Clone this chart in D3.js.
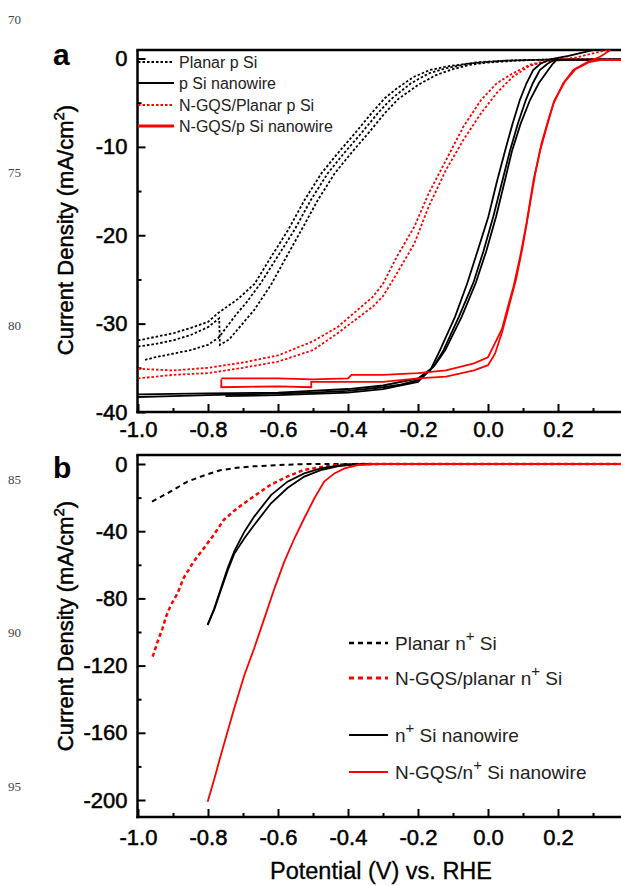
<!DOCTYPE html>
<html>
<head>
<meta charset="utf-8">
<script src="https://cdn.jsdelivr.net/npm/d3@7"></script>
<style>
  body { margin: 0; background: #fff; }
  svg text { font-family: "Liberation Sans", Arial, sans-serif; }
</style>
</head>
<body>
<div class="graph-container"></div>
<script>
// ---- data (potential V vs. current density mA/cm2) ----
// panel a
const planarPSi1 = [[-1.0,-31.9],[-0.95,-31.5],[-0.9,-31.1],[-0.85,-30.5],[-0.8,-29.8],[-0.771,-28.8],[-0.714,-27.2],[-0.667,-25.5],[-0.619,-22.4],[-0.571,-19.4],[-0.524,-16.0],[-0.476,-13.0],[-0.429,-10.7],[-0.381,-8.5],[-0.333,-6.2],[-0.295,-4.5],[-0.261,-3.4],[-0.213,-2.1],[-0.166,-1.3],[-0.118,-0.9],[-0.023,-0.4],[0.07,-0.2],[0.2,-0.1],[0.38,-0.1]];
const planarPSi2 = [[-1.0,-32.6],[-0.95,-32.3],[-0.9,-31.9],[-0.85,-31.3],[-0.8,-30.4],[-0.768,-29.4],[-0.766,-32.4],[-0.74,-31.8],[-0.714,-30.6],[-0.667,-28.4],[-0.62,-25.6],[-0.581,-22.8],[-0.533,-19.4],[-0.486,-16.0],[-0.438,-13.0],[-0.391,-10.7],[-0.343,-8.5],[-0.295,-6.2],[-0.257,-4.6],[-0.2,-3.0],[-0.15,-1.9],[-0.1,-1.2],[-0.05,-0.7],[0.0,-0.45],[0.1,-0.2],[0.2,-0.1],[0.38,-0.1]];
const planarPSi3 = [[-0.98,-34.1],[-0.95,-33.8],[-0.9,-33.4],[-0.85,-33.0],[-0.8,-32.4],[-0.77,-31.6],[-0.72,-29.0],[-0.69,-27.6],[-0.649,-25.4],[-0.601,-22.4],[-0.553,-19.4],[-0.506,-16.0],[-0.458,-13.0],[-0.411,-10.7],[-0.363,-8.5],[-0.315,-6.2],[-0.277,-4.6],[-0.22,-2.8],[-0.17,-1.7],[-0.12,-1.1],[-0.05,-0.55],[0.05,-0.25],[0.2,-0.1],[0.38,-0.1]];

const pSiNw1 = [[-1.0,-38.3],[-0.9,-38.2],[-0.8,-38.1],[-0.7,-38.0],[-0.6,-37.9],[-0.5,-37.8],[-0.4,-37.6],[-0.3,-37.2],[-0.25,-36.9],[-0.2,-36.4],[-0.165,-35.3],[-0.137,-33.0],[-0.094,-29.2],[-0.059,-25.4],[-0.03,-21.8],[0.001,-17.9],[0.025,-14.0],[0.049,-10.4],[0.07,-7.4],[0.091,-4.7],[0.11,-2.8],[0.129,-1.3],[0.15,-0.6],[0.177,-0.1],[0.23,0.3],[0.3,0.96]];
const pSiNw2 = [[-1.0,-38.0],[-0.8,-37.9],[-0.6,-37.8],[-0.4,-37.4],[-0.3,-37.0],[-0.2,-36.2],[-0.156,-34.9],[-0.127,-33.0],[-0.083,-29.2],[-0.042,-25.4],[-0.013,-21.8],[0.015,-17.9],[0.04,-14.0],[0.063,-10.4],[0.085,-7.4],[0.108,-4.7],[0.128,-2.8],[0.148,-1.3],[0.17,-0.6],[0.19,-0.15],[0.38,-0.1]];
const pSiNw3 = [[-0.75,-38.2],[-0.6,-38.1],[-0.4,-37.8],[-0.3,-37.4],[-0.2,-36.6],[-0.15,-34.6],[-0.122,-33.0],[-0.075,-29.2],[-0.035,-25.4],[-0.005,-21.8],[0.023,-17.9],[0.047,-14.0],[0.069,-10.4],[0.093,-7.4],[0.12,-4.7],[0.145,-2.8],[0.172,-1.3],[0.185,-0.6],[0.196,-0.15],[0.38,-0.15]];

const ngqsPlanarP1 = [[-1.0,-35.1],[-0.9,-35.3],[-0.8,-35.0],[-0.7,-34.4],[-0.6,-33.6],[-0.5,-32.0],[-0.43,-30.4],[-0.33,-27.0],[-0.3,-25.5],[-0.26,-22.4],[-0.21,-19.0],[-0.17,-15.3],[-0.12,-11.5],[-0.07,-7.7],[-0.02,-4.7],[0.025,-2.8],[0.07,-1.7],[0.12,-0.7],[0.17,-0.25],[0.25,0.1],[0.34,0.96]];
const ngqsPlanarP2 = [[-1.0,-36.2],[-0.9,-35.8],[-0.8,-35.6],[-0.7,-35.0],[-0.6,-34.3],[-0.5,-33.0],[-0.43,-31.1],[-0.33,-28.1],[-0.3,-26.9],[-0.26,-24.3],[-0.21,-20.9],[-0.17,-16.8],[-0.12,-12.6],[-0.07,-9.2],[-0.02,-6.2],[0.025,-3.9],[0.07,-2.1],[0.12,-0.8],[0.17,-0.3],[0.25,-0.1],[0.38,-0.1]];

const ngqsPNw1 = [[-0.762,-36.2],[-0.6,-36.2],[-0.5,-36.3],[-0.4,-36.2],[-0.39,-35.8],[-0.3,-35.8],[-0.2,-35.6],[-0.12,-35.3],[-0.04,-34.5],[0.0,-33.8],[0.02,-32.2],[0.04,-30.6],[0.054,-28.5],[0.073,-25.8],[0.092,-22.4],[0.11,-18.7],[0.13,-13.8],[0.149,-10.4],[0.168,-7.7],[0.187,-5.1],[0.215,-2.8],[0.244,-1.3],[0.28,-0.5],[0.32,0.2],[0.35,0.96]];
const ngqsPNw2 = [[-0.762,-36.3],[-0.762,-37.2],[-0.6,-37.1],[-0.505,-37.2],[-0.505,-36.6],[-0.3,-36.6],[-0.2,-36.2],[-0.12,-36.0],[-0.04,-35.3],[0.0,-34.7],[0.02,-33.4],[0.04,-31.0],[0.06,-28.0],[0.08,-25.0],[0.098,-21.5],[0.115,-17.6],[0.135,-13.0],[0.153,-9.6],[0.172,-7.0],[0.19,-4.7],[0.22,-2.6],[0.25,-1.2],[0.29,-0.4],[0.32,-0.17],[0.38,-0.17]];

// panel b
const planarNSi = [[-0.96,-22.4],[-0.908,-16.5],[-0.86,-10.6],[-0.81,-6.7],[-0.765,-3.7],[-0.717,-2.2],[-0.67,-1.4],[-0.574,-0.4],[-0.508,0],[0.38,0]];
const ngqsPlanarNSi = [[-0.958,-114.7],[-0.944,-105.8],[-0.93,-97.8],[-0.92,-90.9],[-0.906,-83.9],[-0.887,-77.0],[-0.87,-68.0],[-0.841,-58.1],[-0.812,-50.2],[-0.784,-42.3],[-0.755,-33.3],[-0.717,-26.4],[-0.67,-19.4],[-0.622,-12.5],[-0.574,-7.5],[-0.527,-3.6],[-0.47,-1.6],[-0.413,-0.2],[-0.35,0],[0.38,0]];
const nSiNw1 = [[-0.801,-95.8],[-0.782,-85.9],[-0.763,-74.0],[-0.744,-62.1],[-0.725,-52.0],[-0.696,-40.3],[-0.668,-31.3],[-0.62,-18.5],[-0.573,-10.5],[-0.525,-5.6],[-0.478,-2.6],[-0.43,-1.0],[-0.383,-0.2],[-0.3,0],[0.38,0]];
const nSiNw2 = [[-0.801,-95.8],[-0.782,-86.5],[-0.763,-75.0],[-0.744,-63.5],[-0.725,-53.5],[-0.696,-44.2],[-0.668,-36.3],[-0.62,-23.4],[-0.573,-14.3],[-0.525,-7.5],[-0.478,-3.6],[-0.43,-1.4],[-0.383,-0.2],[-0.3,0]];
const ngqsNSiNw = [[-0.801,-201],[-0.782,-187.5],[-0.763,-173],[-0.744,-159.3],[-0.725,-145.4],[-0.696,-125.6],[-0.668,-109.7],[-0.639,-91.9],[-0.61,-74.0],[-0.582,-58.1],[-0.553,-44.2],[-0.525,-32.3],[-0.496,-20.4],[-0.468,-10.5],[-0.439,-5.6],[-0.41,-2.6],[-0.372,-0.6],[-0.33,0],[0.38,0]];

// ticks
const xTicks = [-1.0, -0.8, -0.6, -0.4, -0.2, 0.0, 0.2];
const xMinor = [-0.9, -0.7, -0.5, -0.3, -0.1, 0.1, 0.3];
const yTicksA = [0, -10, -20, -30, -40];
const yMinorA = [-5, -15, -25, -35];
const yTicksB = [0, -40, -80, -120, -160, -200];
const yMinorB = [-20, -60, -100, -140, -180];

// legend labels
const legendA = ['Planar p Si', 'p Si nanowire', 'N-GQS/Planar p Si', 'N-GQS/p Si nanowire'];
const legendB = [['Planar n', ' Si'], ['N-GQS/planar n', ' Si'], ['n', ' Si nanowire'], ['N-GQS/n', ' Si nanowire']];
const lineNumbers = ['70', '75', '80', '85', '90', '95'];

// ---- layout ----
const w = 621;
const h = 886;
const left = 137.5;
const RED = '#ff0000';

const svg = d3.select('.graph-container').append('svg')
  .attr('width', w).attr('height', h);
svg.append('rect').attr('width', w).attr('height', h).attr('fill', '#fff');

// manuscript line numbers
svg.selectAll('.lineno').data(lineNumbers).enter().append('text')
  .attr('class', 'lineno')
  .attr('x', 8)
  .attr('y', (d, i) => 23.5 + i * 153.4)
  .style('font-family', '"Liberation Serif", "Times New Roman", serif')
  .style('font-size', '13px')
  .attr('fill', '#444')
  .text((d) => d);

const x = d3.scaleLinear().domain([-1, 0.4]).range([138, 628]);
const ya = d3.scaleLinear().domain([-40, 0]).range([412, 58.5]);
const yb = d3.scaleLinear().domain([-200, 0]).range([800, 464]);

const fmtX = (d) => d.toFixed(1);
const fmtY = (d) => String(d);

function drawFrame(y, top, bottom, yMajor, yMinor, labelGap) {
  const g = svg.append('g');
  // left axis
  const ay = g.append('g').attr('transform', `translate(${left},0)`)
    .call(d3.axisLeft(y).tickValues(yMajor).tickSize(-8).tickPadding(10).tickFormat(fmtY));
  ay.append('g').call(d3.axisLeft(y).tickValues(yMinor).tickSize(-4).tickFormat(''));
  // bottom axis
  const ax = g.append('g').attr('transform', `translate(0,${bottom})`)
    .call(d3.axisBottom(x).tickValues(xTicks).tickSize(-8).tickPadding(labelGap).tickFormat(fmtX));
  ax.append('g').call(d3.axisBottom(x).tickValues(xMinor).tickSize(-4).tickFormat(''));
  g.selectAll('.domain').remove();
  g.selectAll('.tick line').attr('stroke', '#000').attr('stroke-width', 2);
  g.selectAll('.tick text')
    .style('font-size', '22px')
    .attr('fill', '#000')
    .attr('stroke', '#000')
    .attr('stroke-width', 0.5);
  // axis lines + top border
  g.append('line').attr('x1', left).attr('x2', left).attr('y1', top).attr('y2', bottom + 1.2)
    .attr('stroke', '#000').attr('stroke-width', 2.5);
  g.append('line').attr('x1', left - 1.2).attr('x2', w).attr('y1', bottom).attr('y2', bottom)
    .attr('stroke', '#000').attr('stroke-width', 2.5);
  g.append('line').attr('x1', left - 1.2).attr('x2', w).attr('y1', top).attr('y2', top)
    .attr('stroke', '#000').attr('stroke-width', 2.5);
}

drawFrame(ya, 50, 412, yTicksA, yMinorA, 9);
drawFrame(yb, 455, 817, yTicksB, yMinorB, 12);

function trace(y, data, color, width, dash) {
  const line = d3.line().x((d) => x(d[0])).y((d) => y(d[1]));
  svg.append('path')
    .datum(data)
    .attr('d', line)
    .attr('fill', 'none')
    .attr('stroke', color)
    .attr('stroke-width', width)
    .attr('stroke-dasharray', dash || null);
}

// panel a curves
[planarPSi1, planarPSi2, planarPSi3].forEach((d) => trace(ya, d, '#000', 1.8, '2.5,2'));
[ngqsPlanarP1, ngqsPlanarP2].forEach((d) => trace(ya, d, RED, 1.8, '2.5,2'));
[pSiNw1, pSiNw2, pSiNw3].forEach((d) => trace(ya, d, '#000', 1.8));
[ngqsPNw1, ngqsPNw2].forEach((d) => trace(ya, d, RED, 1.8));

// panel b curves
trace(yb, planarNSi, '#000', 2, '5,4');
trace(yb, ngqsPlanarNSi, RED, 2.5, '4,3');
[nSiNw1, nSiNw2].forEach((d) => trace(yb, d, '#000', 1.8));
trace(yb, ngqsNSiNw, RED, 1.8);

// legend a
const legA = svg.append('g');
const styleA = [['#000', 1.8, '2.5,2'], ['#000', 1.8, null], [RED, 1.8, '2.5,2'], [RED, 3, null]];
legendA.forEach((label, i) => {
  const cy = [62, 83, 105, 126][i];
  legA.append('line').attr('x1', 138).attr('x2', 174).attr('y1', cy).attr('y2', cy)
    .attr('stroke', styleA[i][0]).attr('stroke-width', styleA[i][1])
    .attr('stroke-dasharray', styleA[i][2]);
  legA.append('text').attr('x', 179).attr('y', cy + 5.5)
    .style('font-size', '16px').attr('fill', '#222').text(label);
});

// legend b
const legB = svg.append('g');
const styleB = [['#000', 2.5, '5,4'], [RED, 3, '5,4'], ['#000', 2, null], [RED, 2, null]];
legendB.forEach((parts, i) => {
  const cy = [643, 678, 735, 772][i];
  legB.append('line').attr('x1', 349).attr('x2', 388).attr('y1', cy).attr('y2', cy)
    .attr('stroke', styleB[i][0]).attr('stroke-width', styleB[i][1])
    .attr('stroke-dasharray', styleB[i][2]);
  const t = legB.append('text').attr('x', 395).attr('y', cy + 7)
    .style('font-size', '19px').attr('fill', '#222');
  t.append('tspan').text(parts[0]);
  t.append('tspan').attr('dy', -9).style('font-size', '15px').text('+');
  t.append('tspan').attr('dy', 9).text(parts[1]);
});

// panel letters
svg.append('text').attr('x', 53).attr('y', 65).style('font-size', '30px').style('font-weight', 'bold').text('a');
svg.append('text').attr('x', 53).attr('y', 478).style('font-size', '30px').style('font-weight', 'bold').text('b');

// axis titles
function yTitle(cy) {
  const t = svg.append('text')
    .attr('transform', `translate(73,${cy}) rotate(-90)`)
    .attr('text-anchor', 'middle')
    .style('font-size', '22px')
    .attr('fill', '#000')
    .attr('stroke', '#000')
    .attr('stroke-width', 0.5);
  t.append('tspan').text('Current Density (mA/cm');
  t.append('tspan').attr('dy', -9).style('font-size', '15px').text('2');
  t.append('tspan').attr('dy', 9).text(')');
}
yTitle(230);
yTitle(626);

svg.append('text').attr('x', 381).attr('y', 879)
  .attr('text-anchor', 'middle')
  .style('font-size', '23.5px')
  .attr('fill', '#000')
  .attr('stroke', '#000')
  .attr('stroke-width', 0.3)
  .text('Potential (V) vs. RHE');
</script>
</body>
</html>
